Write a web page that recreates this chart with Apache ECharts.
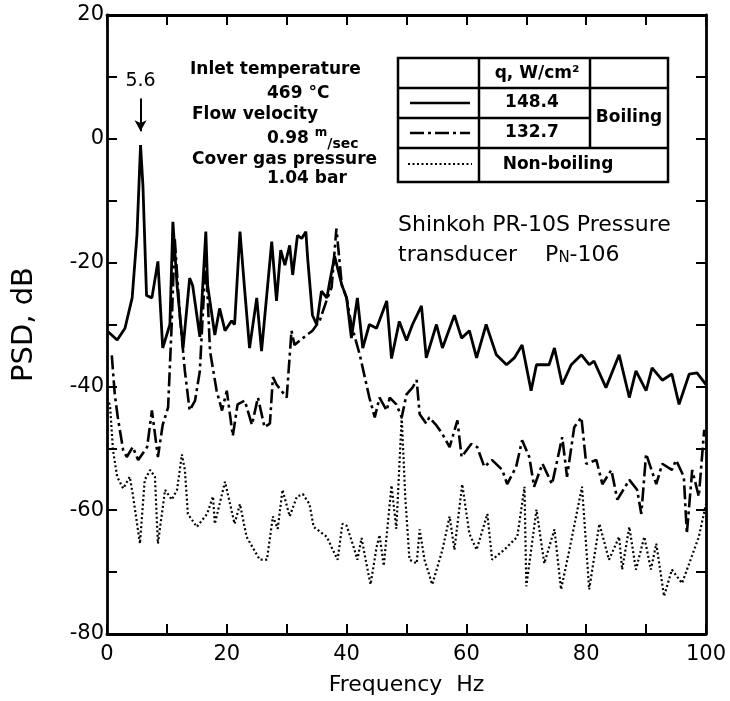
<!DOCTYPE html>
<html>
<head>
<meta charset="utf-8">
<script src="https://cdn.jsdelivr.net/npm/echarts@6/dist/echarts.min.js"></script>
<style>
html, body { margin: 0; padding: 0; background: #fff; }
#chart { width: 730px; height: 701px; }
</style>
</head>
<body>
<div id="chart"></div>
<script>
// [frequency Hz, PSD dB]
var boiling148 = [[0,-31],[1.7,-32.5],[3,-30.6],[4.2,-25.7],[5,-15.6],[5.6,-1],[6,-7.6],[6.6,-25.3],[7.5,-25.7],[8.5,-19.8],[9.3,-33.8],[10.5,-30],[11,-13.4],[11.7,-23.7],[12.7,-33.8],[13.8,-22.5],[14.3,-23.7],[15.5,-32],[16.5,-15],[16.8,-23.7],[18,-31.7],[18.8,-27.4],[19.7,-31],[20.8,-29.4],[21.3,-30],[22.2,-15],[23,-24.6],[23.8,-33.8],[25,-25.7],[25.8,-34.3],[27.5,-16.6],[28.3,-26.2],[29,-18],[29.7,-20.4],[30.5,-17.2],[31,-22],[31.8,-15.6],[32.5,-16.1],[33.2,-15],[33.5,-19.3],[34.3,-28.5],[35,-30],[35.8,-24.6],[36.7,-25.7],[37.2,-23],[38,-19],[39.2,-23.6],[40,-25.7],[40.8,-32.2],[41.8,-25.7],[42.7,-33.8],[43.8,-30],[45,-30.6],[46.7,-26.2],[47.5,-35.5],[48.8,-29.5],[50,-32.6],[51,-30],[52.5,-27],[53.3,-35.4],[55,-30],[56,-33.8],[58,-28.5],[59.2,-32.2],[60.5,-31],[61.7,-35.4],[63.3,-30],[65,-34.9],[66.7,-36.5],[68,-35.4],[69.3,-33.3],[70.8,-40.7],[71.7,-36.5],[73.8,-36.5],[74.7,-33.8],[76,-39.7],[77.5,-36.5],[79.2,-34.9],[80.5,-36.5],[81.3,-35.9],[83.3,-40.2],[85.5,-34.9],[87.2,-41.8],[88.3,-37.5],[90,-40.7],[91,-37],[92.7,-39],[94.3,-38],[95.5,-42.9],[97.2,-38],[98.5,-37.8],[100,-39.7]];

var boiling132 = [[0.8,-35],[1.3,-41.3],[1.8,-45],[2.7,-50.3],[3.3,-51.4],[4.3,-49.8],[5.2,-51.9],[6.7,-49.8],[7.5,-43.9],[8.5,-51.4],[9.3,-46.2],[10.2,-43.4],[10.8,-30],[11.3,-16],[12.2,-29],[13,-37.5],[13.8,-43.9],[14.7,-42.3],[15.5,-37.5],[16.5,-19],[17.2,-34.3],[18.3,-40.7],[19.2,-43.9],[20,-40.7],[21,-48],[21.8,-42.9],[23,-42.3],[24.2,-46.2],[25.2,-41.8],[26.3,-46.6],[27.2,-46],[27.7,-38.5],[28.3,-39.7],[30,-41.8],[30.8,-31],[31.3,-33.3],[32.7,-32.2],[34.3,-31],[35.5,-29.4],[36.7,-26],[37.5,-24],[38.3,-14.5],[39.2,-23.6],[40,-25.7],[40.8,-30],[42.2,-34.9],[43.8,-41.8],[44.7,-45],[45.5,-41.8],[46.7,-43.9],[47.2,-41.8],[48.3,-42.9],[49.2,-45],[50,-41.3],[51,-40.2],[51.7,-39],[52.2,-44.5],[53.3,-46],[53.8,-45],[55,-46.3],[56,-47.7],[57.2,-49.8],[58.5,-45.5],[59.2,-51.4],[60.8,-49.3],[61.8,-49.8],[63,-53],[64.3,-51.9],[66,-53.5],[66.8,-55.8],[68.3,-53],[69.3,-48.7],[70.5,-51.4],[71.3,-56.2],[72.7,-52.5],[74.3,-55.8],[76,-48.2],[76.8,-54.6],[78,-46.6],[79.2,-45],[80,-52.5],[81.7,-51.9],[82.7,-55.8],[84.2,-53.5],[85.2,-58.3],[87.2,-55.1],[88.5,-56.7],[89.2,-60.6],[90,-50.9],[91.7,-55.8],[92.7,-52.5],[94.3,-53.5],[95,-51.9],[96.3,-54.6],[96.8,-63.8],[97.7,-53.5],[98.8,-57.8],[99.7,-47]];

var nonBoiling = [[0,-42],[0.5,-43],[1,-50.3],[1.7,-54.6],[2.7,-56.5],[3.8,-54.6],[4.3,-57.4],[5.5,-65.4],[6.3,-55.1],[7.2,-53.5],[8,-54.6],[8.5,-65.4],[9.7,-56.7],[10.8,-58.3],[11.7,-56.7],[12.5,-51],[13,-53.5],[13.5,-60.6],[15,-62.7],[16.7,-60.6],[17.7,-57.8],[18,-62.2],[19.7,-55.4],[21.3,-62.2],[22.2,-59],[23.3,-64.3],[25.5,-68],[26.7,-68],[27.7,-61],[28.5,-63],[29.3,-56.7],[30.5,-61],[31.7,-57.8],[32.7,-57.4],[33.8,-59],[34.5,-62.7],[36.7,-64.3],[37.7,-66.4],[38.5,-68],[39.3,-62.2],[40,-62.5],[41,-65.4],[41.8,-68],[42.5,-64.5],[43.3,-68.6],[44,-72],[45,-66],[45.5,-64],[46.2,-69],[47.5,-56],[48.3,-63],[49.2,-45],[49.8,-58],[50.5,-68],[51.7,-68.6],[52.2,-63.1],[53,-68],[54.3,-72],[56,-66.4],[57.2,-61],[58,-66.4],[59.3,-55.8],[60.5,-63.8],[61.7,-66.4],[63.5,-60.6],[64.3,-68],[66.3,-66.4],[68.5,-64.3],[69.7,-56.2],[70,-72.3],[71.7,-59.9],[73,-68.6],[74.7,-63.1],[75.8,-72.8],[77.2,-66.4],[79.3,-56.2],[80.5,-72.8],[82.2,-62.2],[83.8,-68],[85.5,-64.3],[86,-69.6],[87.2,-62.7],[88.3,-69.6],[89.7,-64.3],[90.8,-69.6],[91.7,-65.4],[93,-73.9],[94.3,-69.6],[96,-71.8],[97.2,-68.6],[98.8,-64.3],[100,-59]];

var peakFreq = 5.6;

var FONT = 'DejaVu Sans';
var BLACK = '#000';

var chart = echarts.init(document.getElementById('chart'));

function axisCommon(showLabel) {
	return {
		axisLine: { show: true, onZero: false, lineStyle: { color: BLACK, width: 2.8 } },
		axisTick: { show: true, inside: true, length: 10, lineStyle: { color: BLACK, width: 2 } },
		splitLine: { show: false },
		axisLabel: {
			show: showLabel,
			color: BLACK,
			fontFamily: FONT,
			fontSize: 21,
			formatter: function (v) { return v % 20 === 0 ? String(v) : ''; }
		}
	};
}

var xMain = Object.assign(axisCommon(true), {
	type: 'value', min: 0, max: 100, interval: 10, position: 'bottom',
	name: 'Frequency  Hz', nameLocation: 'middle', nameGap: 40,
	nameTextStyle: { color: BLACK, fontFamily: FONT, fontSize: 22 }
});
xMain.axisLabel.margin = 10;

var xTop = Object.assign(axisCommon(false), {
	type: 'value', min: 0, max: 100, interval: 10, position: 'top'
});

var yMain = Object.assign(axisCommon(true), {
	type: 'value', min: -80, max: 20, interval: 10, position: 'left',
	name: 'PSD, dB', nameLocation: 'middle', nameGap: 68, nameRotate: 90,
	nameTextStyle: { color: BLACK, fontFamily: FONT, fontSize: 29 }
});
yMain.axisLabel.margin = 3;

var yRight = Object.assign(axisCommon(false), {
	type: 'value', min: -80, max: 20, interval: 10, position: 'right'
});

var txt = function (x, y, text, opt) {
	return {
		type: 'text', x: x, y: y, silent: true,
		style: Object.assign({
			text: text, fill: BLACK, fontFamily: FONT, fontSize: 17, fontWeight: 'bold',
			verticalAlign: 'middle', align: 'left'
		}, opt || {})
	};
};
var ln = function (x1, y1, x2, y2, dash, w) {
	return {
		type: 'line', silent: true,
		shape: { x1: x1, y1: y1, x2: x2, y2: y2 },
		style: { stroke: BLACK, lineWidth: w || 2.5, lineDash: dash || null }
	};
};

var graphics = [
	// run conditions
	txt(190, 70, 'Inlet temperature'),
	txt(267, 94, '469 °C'),
	txt(192, 115, 'Flow velocity'),
	txt(267, 139, '0.98 {sup|m}{sub|/sec}', {
		lineHeight: 24,
		rich: {
			sup: { fontFamily: FONT, fontSize: 12, fontWeight: 'bold', verticalAlign: 'top', lineHeight: 12 },
			sub: { fontFamily: FONT, fontSize: 14, fontWeight: 'bold', verticalAlign: 'bottom', lineHeight: 14 }
		}
	}),
	txt(192, 160, 'Cover gas pressure'),
	txt(267, 179, '1.04 bar'),

	// legend table
	{ type: 'rect', silent: true, shape: { x: 398, y: 58, width: 270, height: 124 },
	  style: { fill: '#fff', stroke: BLACK, lineWidth: 2.5 } },
	ln(398, 88, 668, 88),
	ln(398, 118, 590, 118),
	ln(398, 148, 668, 148),
	ln(479, 58, 479, 182),
	ln(590, 58, 590, 148),
	txt(537, 74, 'q, W/cm²', { align: 'center', fontSize: 17 }),
	txt(532, 103, '148.4', { align: 'center', fontSize: 17 }),
	txt(532, 133, '132.7', { align: 'center', fontSize: 17 }),
	txt(629, 118, 'Boiling', { align: 'center', fontSize: 17 }),
	txt(558, 165, 'Non-boiling', { align: 'center', fontSize: 17 }),
	ln(410, 103, 470, 103, null, 2.5),
	ln(410, 133, 470, 133, [14, 4, 3, 4], 2.5),
	ln(408, 164, 472, 164, [2, 2.5], 2),

	// transducer note
	txt(398, 225, 'Shinkoh PR-10S Pressure', { fontSize: 22, fontWeight: 'normal' }),
	txt(398, 255, 'transducer    P{sub|N}-106', {
		fontSize: 22, fontWeight: 'normal',
		rich: { sub: { fontFamily: FONT, fontSize: 15, verticalAlign: 'bottom', lineHeight: 14 } }
	})
];

var option = {
	backgroundColor: '#fff',
	animation: false,
	grid: { left: 107, right: 24, top: 15, bottom: 63, show: false },
	xAxis: [xMain, xTop],
	yAxis: [yMain, yRight],
	series: [
		{
			name: '148.4', type: 'line', data: boiling148, showSymbol: false,
			lineStyle: { color: BLACK, width: 2.8 },
			markLine: {
				silent: true, symbol: ['none', 'arrow'], symbolSize: [9, 11],
				lineStyle: { color: BLACK, width: 2, type: 'solid' },
				label: { show: true, position: 'start', distance: 8, formatter: String(peakFreq),
					color: BLACK, fontFamily: FONT, fontSize: 19 },
				data: [[{ coord: [peakFreq, 6.5] }, { coord: [peakFreq, 1.2] }]]
			}
		},
		{
			name: '132.7', type: 'line', data: boiling132, showSymbol: false,
			lineStyle: { color: BLACK, width: 2.6, type: [14, 4, 3, 4] }
		},
		{
			name: 'Non-boiling', type: 'line', data: nonBoiling, showSymbol: false,
			lineStyle: { color: BLACK, width: 2.2, type: [2, 2.5] }
		}
	],
	graphic: graphics
};

chart.setOption(option);
</script>
</body>
</html>
